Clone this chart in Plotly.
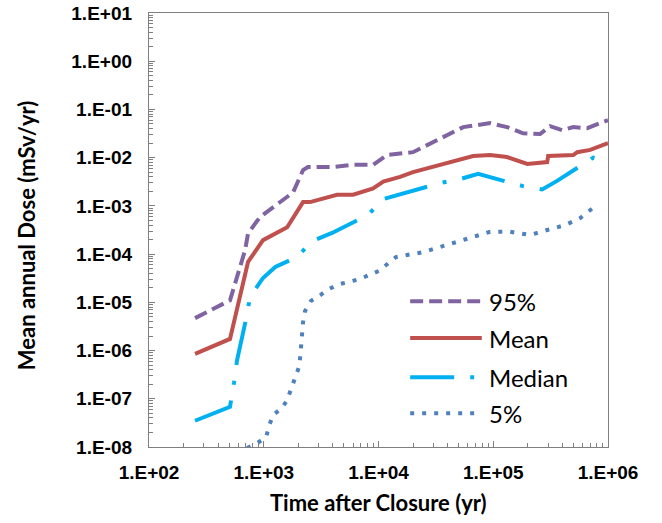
import plotly.graph_objects as go

# ---------------- data ----------------
t95 = [252, 508, 687, 730, 929, 1800, 2200, 2430, 4020, 6010, 8980, 11900, 20000, 39600,
       54700, 94000, 132000, 182000, 256000, 313000, 399000, 498000, 659000, 908000, 1000000]
d95 = [4.7e-6, 1.1e-5, 1.2e-4, 2.7e-4, 5.9e-4, 1.9e-3, 5.5e-3, 6.4e-3, 6.4e-3, 7.1e-3, 7.1e-3,
       1.14e-2, 1.3e-2, 2.95e-2, 4.3e-2, 5.2e-2, 4.3e-2, 3.2e-2, 3.1e-2, 4.5e-2, 3.7e-2,
       4.3e-2, 4.1e-2, 5.5e-2, 6.0e-2]

tMean = [252, 508, 730, 986, 1600, 2200, 2530, 3100, 4350, 6010, 8980, 11000, 15400, 20000,
         39600, 66800, 94000, 132000, 198000, 295000, 301000, 498000, 539000, 700000, 1000000]
dMean = [8.5e-7, 1.74e-6, 6.9e-5, 1.95e-4, 3.6e-4, 1.2e-3, 1.2e-3, 1.38e-3, 1.7e-3, 1.7e-3,
         2.3e-3, 3.2e-3, 4.0e-3, 5.0e-3, 7.7e-3, 1.08e-2, 1.13e-2, 1.03e-2, 7.4e-3, 8.1e-3,
         1.08e-2, 1.13e-2, 1.3e-2, 1.45e-2, 2.0e-2]

tMed = [252, 508, 551, 585, 701, 760, 986, 1260, 1950, 2640, 3940, 8110, 11000, 17100, 34400,
        51400, 73800, 179000, 267000, 360000, 608000, 743000, 1000000]
dMed = [3.5e-8, 6.8e-8, 2.2e-7, 6.3e-7, 4.5e-6, 1.3e-5, 3.2e-5, 5.4e-5, 8.7e-5, 1.86e-4,
        2.75e-4, 6.5e-4, 1.38e-3, 1.85e-3, 2.97e-3, 3.6e-3, 4.6e-3, 2.6e-3, 2.2e-3, 3.3e-3,
        7.1e-3, 1.0e-2, 8.2e-3]

t5 = [715, 875, 1050, 1110, 1205, 1440, 1600, 1730, 1870, 2030, 2080, 2120, 2160, 2200, 2290,
      2580, 3100, 3700, 4620, 6770, 10100, 14200, 24500, 59200, 94000, 140000, 210000, 301000,
      424000, 573000, 743000, 820000]
d5 = [9.5e-9, 1.2e-8, 1.6e-8, 2.7e-8, 4.6e-8, 6.4e-8, 9.4e-8, 1.6e-7, 2.7e-7, 4.6e-7, 7.4e-7,
      1.3e-6, 2.3e-6, 3.9e-6, 6.6e-6, 1.07e-5, 1.4e-5, 1.9e-5, 2.4e-5, 3.0e-5, 4.5e-5, 8.7e-5,
      1.1e-4, 2.1e-4, 2.9e-4, 2.9e-4, 2.5e-4, 3.2e-4, 4.0e-4, 5.6e-4, 9.1e-4, 1.1e-3]

series_names = ["95%", "Mean", "Median", "5%"]

x_decades = [2, 3, 4, 5, 6]
y_decades = [-8, -7, -6, -5, -4, -3, -2, -1, 0, 1]
x_tickvals = [10.0 ** k for k in x_decades]
x_ticktext = ["1.E+02", "1.E+03", "1.E+04", "1.E+05", "1.E+06"]
y_tickvals = [10.0 ** k for k in y_decades]
y_ticktext = ["1.E-08", "1.E-07", "1.E-06", "1.E-05", "1.E-04", "1.E-03", "1.E-02",
              "1.E-01", "1.E+00", "1.E+01"]
x_minor = [m * 10.0 ** k for k in x_decades[:-1] for m in range(2, 10)]
y_minor = [m * 10.0 ** k for k in y_decades[:-1] for m in range(2, 10)]

# ---------------- styles ----------------
colors = ["#8064A2", "#C0504D", "#00B0F0", "#4F81BD"]
dashes = ["13px,6px", "solid", "44px,16px,4px,16px", "4px,8px"]
LW = 4

fig = go.Figure()
for t, d, name, c, dsh in zip([t95, tMean, tMed, t5], [d95, dMean, dMed, d5],
                              series_names, colors, dashes):
    fig.add_trace(go.Scatter(x=t, y=d, mode="lines", name=name,
                             line=dict(color=c, width=LW, dash=dsh), showlegend=False))

# manual legend (Excel-like long samples)
leg_y = [0.336, 0.251, 0.161, 0.078]
for yy, name, c, dsh in zip(leg_y, series_names, colors, dashes):
    fig.add_shape(type="line", xref="paper", yref="paper", x0=0.569, x1=0.725, y0=yy, y1=yy,
                  line=dict(color=c, width=LW, dash=dsh))
    fig.add_annotation(xref="paper", yref="paper", x=0.737, y=yy, text=name, showarrow=False,
                       xanchor="left", yanchor="middle",
                       font=dict(family="Lato", size=24, color="black"))

axis_common = dict(
    type="log", showline=True, linecolor="#7f7f7f", linewidth=1.3, mirror=True,
    ticks="inside", ticklen=6, tickcolor="#7f7f7f", tickwidth=1, showgrid=False, zeroline=False,
    automargin=False,
    tickfont=dict(family="Liberation Sans, Arial", size=19, color="black", weight="bold"),
)

fig.update_xaxes(range=[2, 6], tickmode="array", tickvals=x_tickvals, ticktext=x_ticktext,
                 ticklabelstandoff=8,
                 minor=dict(ticks="inside", ticklen=4, tickcolor="#7f7f7f", tickmode="array",
                            tickvals=x_minor, showgrid=False),
                 **axis_common)
fig.update_yaxes(range=[-8, 1], tickmode="array", tickvals=y_tickvals, ticktext=y_ticktext,
                 ticklabelstandoff=12,
                 minor=dict(ticks="inside", ticklen=4, tickcolor="#7f7f7f", tickmode="array",
                            tickvals=y_minor, showgrid=False),
                 **axis_common)

fig.add_annotation(xref="paper", yref="paper", x=0.499, y=-0.129, text="Time after Closure (yr)",
                   showarrow=False, xanchor="center", yanchor="middle",
                   font=dict(family="Lato", size=22, color="black", weight="bold"))
fig.add_annotation(xref="paper", yref="paper", x=-0.268, y=0.488, text="Mean annual Dose (mSv/yr)",
                   showarrow=False, xanchor="center", yanchor="middle", textangle=-90,
                   font=dict(family="Lato", size=22, color="black", weight="bold"))

fig.update_layout(width=662, height=523, margin=dict(l=149, r=54, t=13, b=76, autoexpand=False),
                  paper_bgcolor="white", plot_bgcolor="white", showlegend=False)

fig.write_html("out.html", config={"displayModeBar": False},
               post_script="document.body.style.margin='0';document.body.style.overflow='hidden';")
